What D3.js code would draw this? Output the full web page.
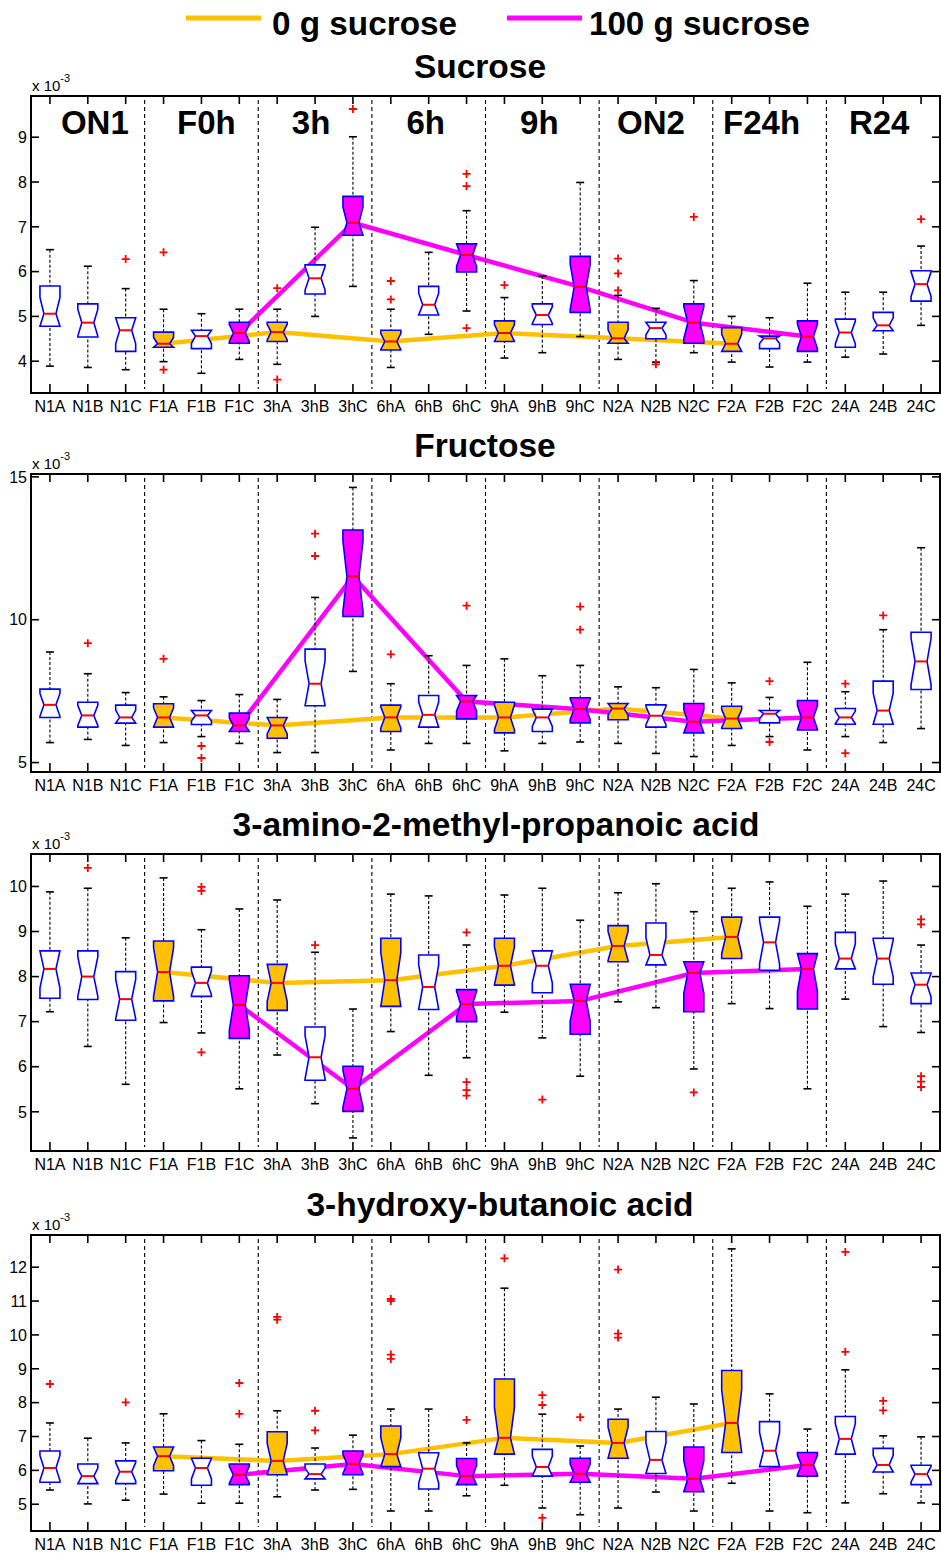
<!DOCTYPE html>
<html>
<head>
<meta charset="utf-8">
<script src="https://cdn.jsdelivr.net/npm/d3@7"></script>
<style>
  body { margin: 0; background: #fff; }
  text { font-family: "Liberation Sans", Arial, sans-serif; }
</style>
</head>
<body>
<div id="chart"></div>
<script>
// ---- data (values x 10^-3) ----
const categories = ['N1A','N1B','N1C','F1A','F1B','F1C','3hA','3hB','3hC','6hA','6hB','6hC',
                    '9hA','9hB','9hC','N2A','N2B','N2C','F2A','F2B','F2C','24A','24B','24C'];
const groupLabels = ['ON1','F0h','3h','6h','9h','ON2','F24h','R24'];
// w = plain, o = 0 g sucrose, m = 100 g sucrose
const fillType = ['w','w','w','o','w','m','o','w','m','o','w','m',
                  'o','w','m','o','w','m','o','w','m','w','w','w'];
const zeroIdx = [3, 6, 9, 12, 15, 18];
const hundredIdx = [5, 8, 11, 14, 17, 20];
const seriesNames = ['0 g sucrose', '100 g sucrose'];

// [lower whisker, q1, median, q3, upper whisker]
const sucroseBox = [
  [3.89,4.78,5.06,5.68,6.49],[3.86,4.54,4.86,5.28,6.12],[3.81,4.22,4.69,4.97,5.62],
  [3.99,4.31,4.39,4.65,5.16],[3.73,4.28,4.56,4.69,5.06],[4.04,4.40,4.63,4.87,5.16],
  [3.93,4.44,4.65,4.87,5.16],[5.00,5.50,5.85,6.15,6.99],[5.67,6.81,7.09,7.68,9.01],
  [3.86,4.25,4.44,4.69,5.16],[4.60,5.03,5.26,5.67,6.43],[5.12,5.99,6.37,6.62,7.36],
  [4.07,4.44,4.63,4.90,5.42],[4.19,4.82,5.03,5.28,5.90],[4.55,5.09,5.66,6.34,7.99],
  [4.04,4.40,4.51,4.87,5.47],[3.98,4.50,4.74,4.87,5.18],[4.19,4.40,4.86,5.28,5.80],
  [3.98,4.22,4.39,4.75,5.00],[3.87,4.28,4.51,4.56,4.97],[3.98,4.22,4.55,4.90,5.74],
  [4.09,4.31,4.64,4.94,5.54],[4.16,4.68,4.80,5.09,5.54],[4.80,5.34,5.72,6.02,6.57]
];
const sucroseOut = [
  [],[],[6.28],[6.43,3.81],[],[],[5.63,3.59],[],[9.63],[5.79,5.38],[],[8.18,7.91,4.74],
  [5.70],[],[],[6.29,5.96,5.58],[3.93],[7.22],[],[],[],[],[],[7.17]
];
const sucroseTicks = [4,5,6,7,8,9];

const fructoseBox = [
  [5.70,6.58,7.02,7.57,8.87],[5.81,6.24,6.65,7.11,8.11],[5.60,6.38,6.58,7.01,7.45],
  [5.70,6.24,6.58,7.06,7.30],[5.91,6.33,6.65,6.82,7.17],[5.67,6.09,6.30,6.73,7.38],
  [5.35,5.85,6.30,6.58,7.21],[5.35,6.99,7.76,8.97,10.78],[8.19,10.11,11.52,13.14,14.63],
  [5.44,6.09,6.58,7.01,7.76],[5.67,6.24,6.67,7.35,8.74],[5.67,6.53,7.14,7.35,8.40],
  [5.41,6.04,6.58,7.11,8.63],[5.67,6.09,6.58,6.87,8.04],[5.72,6.39,6.87,7.27,8.40],
  [5.67,6.50,6.89,7.07,7.65],[5.32,6.24,6.64,7.02,7.62],[5.21,6.04,6.43,7.07,8.26],
  [5.60,6.19,6.54,6.97,7.79],[5.91,6.39,6.71,6.82,7.28],[5.44,6.14,6.58,7.17,8.51],
  [5.91,6.34,6.58,6.89,7.48],[5.70,6.34,6.82,7.85,9.65],[6.19,7.56,8.54,9.56,12.52]
];
const fructoseOut = [
  [],[9.18],[],[8.63],[5.58,5.16],[],[],[13.01,12.23],[],[8.79],[],[10.49],
  [],[],[10.46,9.65],[],[],[],[],[7.85,5.72],[],[7.76,5.33],[10.15],[]
];
const fructoseTicks = [5,10,15];

const aminoBox = [
  [7.22,7.52,8.17,8.57,9.88],[6.45,7.49,8.00,8.57,9.96],[5.61,7.03,7.50,8.11,8.86],
  [6.98,7.46,8.10,8.79,10.19],[6.75,7.56,7.86,8.21,9.04],[5.51,6.63,7.37,8.02,9.50],
  [6.26,7.25,7.86,8.27,9.70],[5.18,5.70,6.21,6.88,8.54],[4.42,5.01,5.51,6.01,7.28],
  [6.78,7.34,7.92,8.85,9.83],[5.81,7.27,7.77,8.48,9.79],[6.20,7.00,7.39,7.71,8.70],
  [7.21,7.81,8.24,8.85,9.81],[6.64,7.64,8.24,8.57,9.96],[5.79,6.72,7.46,7.83,9.25],
  [7.44,8.33,8.68,9.13,9.86],[7.31,8.26,8.48,9.19,10.06],[5.95,7.22,8.08,8.33,9.44],
  [7.40,8.40,8.88,9.32,9.96],[7.29,8.14,8.76,9.32,10.10],[5.51,7.28,8.17,8.51,9.56],
  [7.50,8.17,8.40,8.98,9.83],[6.89,7.83,8.40,8.85,10.12],[6.76,7.40,7.82,8.08,8.70]
];
const aminoOut = [
  [],[10.41],[],[],[9.99,9.90,6.32],[],[],[8.70],[],[],[],[8.98,5.66,5.48,5.36],
  [],[5.27],[],[],[],[5.43],[],[],[],[],[],[9.27,9.16,5.79,5.67,5.55]
];
const aminoTicks = [5,6,7,8,9,10];

const hydroxyBox = [
  [5.42,5.65,6.07,6.57,7.40],[5.01,5.61,5.83,6.19,6.95],[5.12,5.61,5.96,6.28,6.81],
  [5.30,5.99,6.42,6.69,7.67],[5.03,5.56,6.07,6.36,6.88],[5.03,5.58,5.87,6.19,6.77],
  [5.22,5.87,6.28,7.14,7.76],[5.42,5.75,5.89,6.19,6.66],[5.44,5.87,6.19,6.57,7.04],
  [4.80,6.11,6.48,7.31,7.81],[4.80,5.45,6.05,6.52,7.81],[5.25,5.58,5.83,6.35,6.81],
  [5.56,6.48,6.96,8.70,11.38],[4.89,5.83,6.10,6.62,7.66],[4.69,5.65,5.90,6.36,6.72],
  [4.89,6.36,6.81,7.51,7.81],[5.36,5.91,6.31,7.15,8.16],[4.80,5.37,5.75,6.69,7.96],
  [5.62,6.53,7.40,8.95,12.54],[4.80,6.11,6.58,7.44,8.26],[4.75,5.83,6.16,6.53,7.22],
  [5.04,6.48,6.93,7.59,8.97],[5.31,5.95,6.16,6.65,7.02],[5.04,5.58,5.89,6.15,6.99]
];
const hydroxyOut = [
  [8.55],[],[8.01],[],[],[8.58,7.67],[10.53,10.45],[7.76,7.18],[],[11.06,11.00,9.42,9.29],[],[7.49],
  [12.26],[8.22,7.93,4.60],[7.57],[11.93,10.04,9.92],[],[],[],[],[],[12.45,9.50],[8.05,7.77],[]
];
const hydroxyTicks = [5,6,7,8,9,10,11,12];

// ---- layout ----
const W = 941, H = 1555;
const left = 31, right = 940;
const colors = { o: '#ffc000', m: '#ff00ff', w: '#ffffff' };
const groupShift = [7, 5, -4, -3, -3, -5, -8, -4];   // nudges of the group headings

const panels = [
  { title: 'Sucrose', box: sucroseBox, out: sucroseOut, ticks: sucroseTicks,
    ylim: [3.29, 9.92], top: 96, bottom: 393, titleX: 480, titleY: 78, groups: true },
  { title: 'Fructose', box: fructoseBox, out: fructoseOut, ticks: fructoseTicks,
    ylim: [4.67, 15.1], top: 474, bottom: 772, titleX: 485, titleY: 457 },
  { title: '3-amino-2-methyl-propanoic acid', box: aminoBox, out: aminoOut, ticks: aminoTicks,
    ylim: [4.13, 10.72], top: 854, bottom: 1151, titleX: 496, titleY: 836 },
  { title: '3-hydroxy-butanoic acid', box: hydroxyBox, out: hydroxyOut, ticks: hydroxyTicks,
    ylim: [4.21, 12.95], top: 1235, bottom: 1531, titleX: 500, titleY: 1216 }
];

const svg = d3.select('#chart').append('svg')
  .attr('width', W).attr('height', H)
  .style('background', '#fff');

const x = d3.scaleLinear().domain([0.5, categories.length + 0.5]).range([left, right]);
const bw = 10;      // half box width
const nw = 6;       // half width at the notch
const capW = 4;

// legend
const legend = svg.append('g');
[[186, 261, 272, 185], [507, 582, 589, 221]].forEach(function (p, i) {
  legend.append('line')
    .attr('x1', p[0]).attr('x2', p[1]).attr('y1', 18).attr('y2', 18)
    .attr('stroke', i === 0 ? colors.o : colors.m).attr('stroke-width', 5);
  legend.append('text')
    .attr('x', p[2]).attr('y', 35)
    .attr('font-size', 34).attr('font-weight', 'bold')
    .attr('textLength', p[3]).attr('lengthAdjust', 'spacingAndGlyphs')
    .text(seriesNames[i]);
});

panels.forEach(function (P) {
  const g = svg.append('g');
  const y = d3.scaleLinear().domain(P.ylim).range([P.bottom, P.top]);

  // title
  g.append('text')
    .attr('x', P.titleX).attr('y', P.titleY)
    .attr('text-anchor', 'middle')
    .attr('font-size', 33.5).attr('font-weight', 'bold')
    .text(P.title);

  // exponent label
  const ex = g.append('text').attr('x', 32).attr('y', P.top - 5).attr('font-size', 15);
  ex.append('tspan').text('x 10');
  ex.append('tspan').attr('font-size', 11).attr('dy', -9).text('-3');

  // group separators
  for (let k = 1; k < groupLabels.length; k++) {
    g.append('line')
      .attr('x1', x(3 * k + 0.5)).attr('x2', x(3 * k + 0.5))
      .attr('y1', P.top + 4).attr('y2', P.bottom - 4)
      .attr('stroke', '#000').attr('stroke-width', 1.1)
      .attr('stroke-dasharray', '4,3');
  }

  if (P.groups) {
    groupLabels.forEach(function (lab, k) {
      g.append('text')
        .attr('x', x(3 * k + 2) + groupShift[k]).attr('y', P.top + 38)
        .attr('text-anchor', 'middle')
        .attr('font-size', 33).attr('font-weight', 'bold')
        .text(lab);
    });
  }

  // median lines of the two series (behind the boxes)
  const line = d3.line().x(function (i) { return x(i + 1); })
                        .y(function (i) { return y(P.box[i][2]); });
  [[zeroIdx, colors.o], [hundredIdx, colors.m]].forEach(function (s) {
    g.append('path')
      .attr('d', line(s[0]))
      .attr('fill', 'none').attr('stroke', s[1])
      .attr('stroke-width', 4.5).attr('stroke-linejoin', 'round');
  });

  // boxes
  P.box.forEach(function (b, i) {
    const cx = x(i + 1);
    const lo = b[0], q1 = b[1], med = b[2], q3 = b[3], hi = b[4];
    const nh = 0.405 * (q3 - q1);   // 1.57 * IQR / sqrt(n)
    const nUp = Math.min(med + nh, q3), nLo = Math.max(med - nh, q1);
    const bg = g.append('g');

    // whiskers
    [[hi, q3], [lo, q1]].forEach(function (w) {
      bg.append('line')
        .attr('x1', cx).attr('x2', cx).attr('y1', y(w[0])).attr('y2', y(w[1]))
        .attr('stroke', '#000').attr('stroke-width', 1.1)
        .attr('stroke-dasharray', '3,2');
      bg.append('line')
        .attr('x1', cx - capW).attr('x2', cx + capW).attr('y1', y(w[0])).attr('y2', y(w[0]))
        .attr('stroke', '#000').attr('stroke-width', 1.6);
    });

    const pts = [
      [cx - bw, y(q3)], [cx + bw, y(q3)], [cx + bw, y(nUp)], [cx + nw, y(med)],
      [cx + bw, y(nLo)], [cx + bw, y(q1)], [cx - bw, y(q1)], [cx - bw, y(nLo)],
      [cx - nw, y(med)], [cx - bw, y(nUp)]
    ];
    bg.append('path')
      .attr('d', 'M' + pts.map(function (p) { return p.join(','); }).join('L') + 'Z')
      .attr('fill', colors[fillType[i]])
      .attr('stroke', '#0000ff').attr('stroke-width', 1.6);

    bg.append('line')
      .attr('x1', cx - nw).attr('x2', cx + nw).attr('y1', y(med)).attr('y2', y(med))
      .attr('stroke', '#ff0000').attr('stroke-width', 2);

    // outliers
    P.out[i].forEach(function (v) {
      const py = y(v);
      bg.append('path')
        .attr('d', 'M' + (cx - 4) + ',' + py + 'H' + (cx + 4) + 'M' + cx + ',' + (py - 4) + 'V' + (py + 4))
        .attr('stroke', '#ff0000').attr('stroke-width', 1.8);
    });
  });

  // axes frame
  g.append('rect')
    .attr('x', left).attr('y', P.top)
    .attr('width', right - left).attr('height', P.bottom - P.top)
    .attr('fill', 'none').attr('stroke', '#000').attr('stroke-width', 2);

  // x ticks (inward, top and bottom) and labels
  categories.forEach(function (c, i) {
    const cx = x(i + 1);
    g.append('line').attr('x1', cx).attr('x2', cx)
      .attr('y1', P.bottom).attr('y2', P.bottom - 9)
      .attr('stroke', '#000').attr('stroke-width', 1.6);
    g.append('line').attr('x1', cx).attr('x2', cx)
      .attr('y1', P.top).attr('y2', P.top + 8)
      .attr('stroke', '#000').attr('stroke-width', 1.6);
    g.append('text')
      .attr('x', cx).attr('y', P.bottom + 19)
      .attr('text-anchor', 'middle').attr('font-size', 16)
      .text(c);
  });

  // y ticks (inward, left and right) and labels
  P.ticks.forEach(function (t) {
    const py = y(t);
    g.append('line').attr('x1', left).attr('x2', left + 8)
      .attr('y1', py).attr('y2', py).attr('stroke', '#000').attr('stroke-width', 1.6);
    g.append('line').attr('x1', right).attr('x2', right - 8)
      .attr('y1', py).attr('y2', py).attr('stroke', '#000').attr('stroke-width', 1.6);
    g.append('text')
      .attr('x', 27).attr('y', py).attr('dy', '0.36em')
      .attr('text-anchor', 'end').attr('font-size', 16)
      .text(t);
  });
});
</script>
</body>
</html>
